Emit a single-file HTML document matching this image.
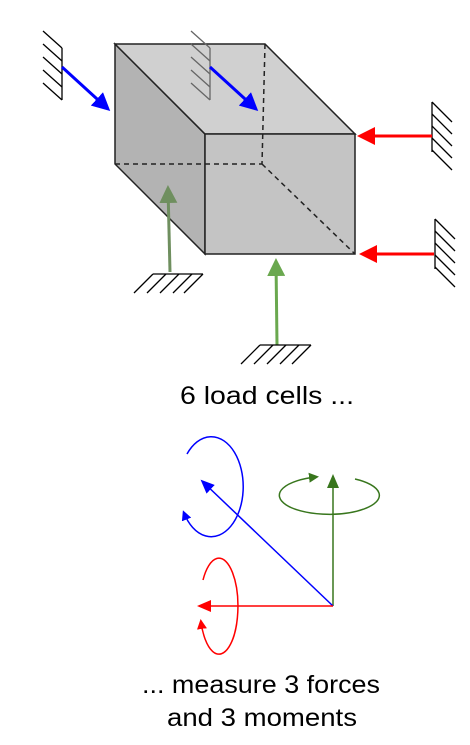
<!DOCTYPE html>
<html><head><meta charset="utf-8"><style>
html,body{margin:0;padding:0;background:#fff;width:470px;height:745px;overflow:hidden}
svg{display:block}
text{font-family:"Liberation Sans",sans-serif;font-size:25px;fill:#000}
</style></head><body>
<svg width="470" height="745" viewBox="0 0 470 745">
<defs>
<marker id="ab" markerWidth="6" markerHeight="6" refX="5" refY="3" orient="auto" markerUnits="strokeWidth"><path d="M0,0L6,3L0,6z" fill="#0000ff"/></marker>
<marker id="ar" markerWidth="6" markerHeight="6" refX="5" refY="3" orient="auto" markerUnits="strokeWidth"><path d="M0,0L6,3L0,6z" fill="#ff0000"/></marker>
<marker id="ag" markerWidth="6" markerHeight="6" refX="5" refY="3" orient="auto" markerUnits="strokeWidth"><path d="M0,0L6,3L0,6z" fill="#6aa84f"/></marker>
<marker id="agd" markerWidth="6" markerHeight="6" refX="5" refY="3" orient="auto" markerUnits="strokeWidth"><path d="M0,0L6,3L0,6z" fill="#6f8f5f"/></marker>
<marker id="sb" markerWidth="10" markerHeight="10" refX="7" refY="5" orient="auto" markerUnits="userSpaceOnUse"><path d="M0,0L10,5L0,10z" fill="#0000ff"/></marker>
<marker id="sr" markerWidth="10" markerHeight="10" refX="7" refY="5" orient="auto" markerUnits="userSpaceOnUse"><path d="M0,0L10,5L0,10z" fill="#ff0000"/></marker>
<marker id="sg" markerWidth="10" markerHeight="10" refX="7" refY="5" orient="auto" markerUnits="userSpaceOnUse"><path d="M0,0L10,5L0,10z" fill="#38761d"/></marker>
<marker id="bb" markerWidth="14" markerHeight="12" refX="12" refY="6" orient="auto" markerUnits="userSpaceOnUse"><path d="M0,0L14,6L0,12z" fill="#0000ff"/></marker>
<marker id="br" markerWidth="14" markerHeight="12" refX="12" refY="6" orient="auto" markerUnits="userSpaceOnUse"><path d="M0,0L14,6L0,12z" fill="#ff0000"/></marker>
<marker id="bg" markerWidth="14" markerHeight="12" refX="12" refY="6" orient="auto" markerUnits="userSpaceOnUse"><path d="M0,0L14,6L0,12z" fill="#38761d"/></marker>
</defs>
<g stroke="#000" stroke-width="1.3" fill="none">
<line x1="62" y1="48" x2="62" y2="100"/>
<path d="M43,31L62,48M43,44L62,61M43,57L62,74M43,70L62,87M43,83L62,100"/>
</g>
<line x1="62" y1="67" x2="108" y2="109" stroke="#0000ff" stroke-width="3" marker-end="url(#ab)"/>
<g stroke="#222" stroke-width="1.5">
<polygon points="115,44 205,134 205,254 115,164" fill="#b3b3b3"/>
<polygon points="115,44 265,44 355,134 205,134" fill="#d0d0d0"/>
<polygon points="205,134 355,134 355,254 205,254" fill="#c4c4c4"/>
<path d="M265,44L262,164M115,164L262,164M262,164L355,254" stroke-dasharray="5,4" fill="none"/>
</g>
<g stroke="#666" stroke-width="1.3" fill="none">
<line x1="210" y1="48" x2="210" y2="100"/>
<path d="M191,31L210,48M191,44L210,61M191,57L210,74M191,70L210,87M191,83L210,100"/>
</g>
<line x1="210" y1="67" x2="256" y2="109" stroke="#0000ff" stroke-width="3" marker-end="url(#ab)"/>
<g stroke="#000" stroke-width="1.3" fill="none">
<line x1="432" y1="102" x2="432" y2="152"/>
<path d="M432,102L452,122M432,114L452,134M432,126L452,146M432,138L452,158M432,150L452,170"/>
</g>
<line x1="432" y1="136" x2="360" y2="136" stroke="#ff0000" stroke-width="3" marker-end="url(#ar)"/>
<g stroke="#000" stroke-width="1.3" fill="none">
<line x1="435" y1="219" x2="435" y2="269"/>
<path d="M435,219L455,239M435,231L455,251M435,243L455,263M435,255L455,275M435,267L455,287"/>
</g>
<line x1="434" y1="254" x2="362" y2="254" stroke="#ff0000" stroke-width="3" marker-end="url(#ar)"/>
<line x1="170" y1="272" x2="168" y2="188" stroke="#6f8f5f" stroke-width="3" marker-end="url(#agd)"/>
<g stroke="#000" stroke-width="1.3" fill="none">
<line x1="153" y1="274" x2="203" y2="274"/>
<path d="M153,274L134,293M166,274L147,293M179,274L160,293M192,274L173,293M203,274L184,293"/>
</g>
<line x1="277" y1="345" x2="276" y2="261" stroke="#6aa84f" stroke-width="3" marker-end="url(#ag)"/>
<g stroke="#000" stroke-width="1.3" fill="none">
<line x1="260" y1="345" x2="311" y2="345"/>
<path d="M260,345L241,364M273,345L254,364M286,345L267,364M299,345L280,364M311,345L292,364"/>
</g>
<text x="267" y="404" text-anchor="middle" textLength="174" lengthAdjust="spacingAndGlyphs">6 load cells ...</text>
<path d="M355,479 A50,19 0 1 1 316,477" fill="none" stroke="#38761d" stroke-width="1.5" marker-end="url(#sg)"/>
<line x1="333" y1="606" x2="333" y2="476" stroke="#38761d" stroke-width="1.5" marker-end="url(#bg)"/>
<path d="M187,454 A32,50 0 1 1 184,513" fill="none" stroke="#0000ff" stroke-width="1.5" marker-end="url(#sb)"/>
<line x1="333" y1="606" x2="202" y2="481" stroke="#0000ff" stroke-width="1.5" marker-end="url(#bb)"/>
<path d="M203,580 A19,48 0 1 1 201,622" fill="none" stroke="#ff0000" stroke-width="1.5" marker-end="url(#sr)"/>
<line x1="333" y1="606" x2="199" y2="606" stroke="#ff0000" stroke-width="1.5" marker-end="url(#br)"/>
<text x="261" y="693" text-anchor="middle" textLength="238" lengthAdjust="spacingAndGlyphs">... measure 3 forces</text>
<text x="262" y="726" text-anchor="middle" textLength="190" lengthAdjust="spacingAndGlyphs">and 3 moments</text>
</svg>
</body></html>
